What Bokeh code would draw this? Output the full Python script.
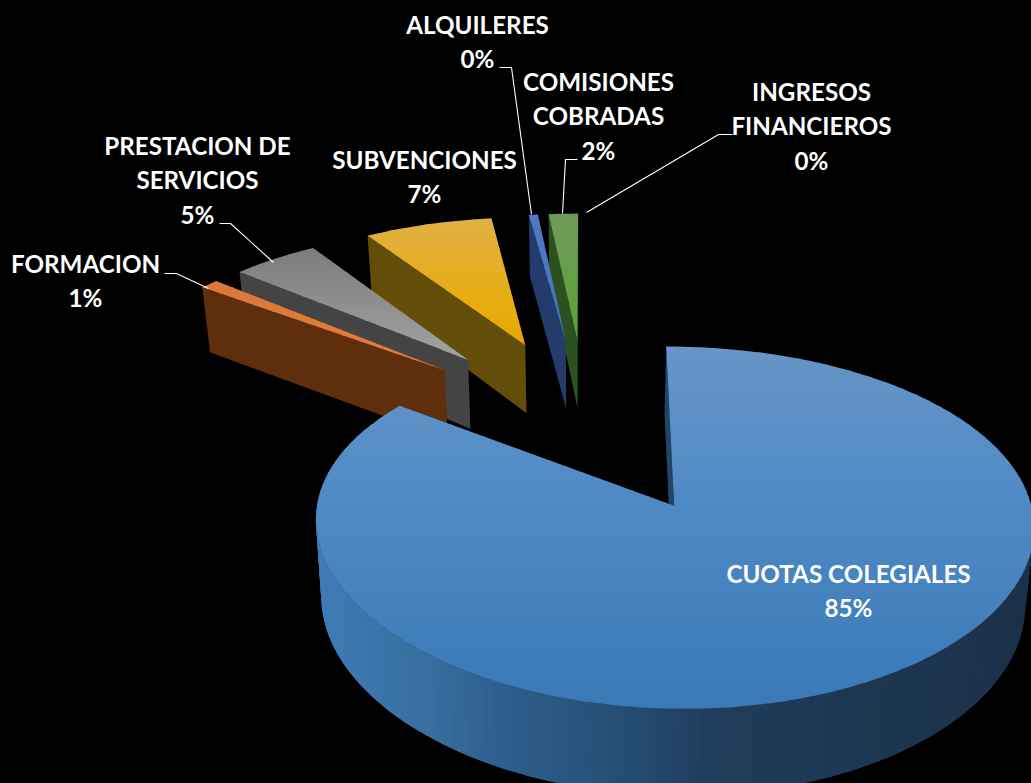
import numpy as np
from bokeh.core.properties import value
from bokeh.embed import file_html
from bokeh.models import ColumnDataSource, GlobalInlineStyleSheet, Range1d
from bokeh.plotting import figure
from bokeh.resources import INLINE

# ---- data ----
categories = ["CUOTAS COLEGIALES", "FORMACION", "PRESTACION DE SERVICIOS", "SUBVENCIONES",
              "ALQUILERES", "COMISIONES COBRADAS", "INGRESOS FINANCIEROS"]
shares = [85.25, 1.0, 4.72, 6.95, 0.49, 1.59, 0.0]
label_lines = [["CUOTAS COLEGIALES"], ["FORMACION"], ["PRESTACION DE", "SERVICIOS"], ["SUBVENCIONES"],
               ["ALQUILERES"], ["COMISIONES", "COBRADAS"], ["INGRESOS", "FINANCIEROS"]]

# ---- styles / layout ----
W, H = 1031, 783
TOP = [[(347, "#6695c6"), (500, "#4f8ac6"), (710, "#3a79b6")],
       [(285, "#d9783c"), (372, "#ee7c2f")],
       [(250, "#7d7d7d"), (362, "#a3a3a3")],
       [(218, "#dfb044"), (300, "#e8ad12"), (348, "#e4a800")],
       [(214, "#5078bf"), (340, "#4472c4")],
       [(212, "#719a5a"), (340, "#5aa335")],
       [(212, "#70ad47"), (340, "#70ad47")]]
WALL = [[(316, "#3f7cb6"), (420, "#37709f"), (500, "#2d5f8e"), (640, "#244b70"), (710, "#1f3d5b"), (1031, "#1b3148")],
        [(200, "#5e2f10"), (450, "#612d08")],
        [(200, "#464646"), (470, "#434343")],
        [(360, "#64500c"), (530, "#614d06")],
        [(520, "#27406f"), (570, "#1f3868")],
        [(540, "#2d4d20"), (580, "#2c5220")],
        [(540, "#2c5220"), (580, "#2c5220")]]
LABEL_X = [848, 85, 197, 424, 477, 598, 811]
LABEL_Y = [572.5, 262.5, 144.5, 158.5, 23.5, 80.5, 90.5]
LINE_PITCH = 34.5
LEADERS = [None, [(164, 273), (176, 273), (208, 288)], [(219, 223), (230, 223), (273, 262)], None,
           [(499, 67), (511, 67), (531, 214)], [(577, 159), (565, 159), (562, 213)],
           [(732, 134), (718, 134), (586, 212)]]

# projection of the tilted pie
Cx, Cy, A, B, KX, KY, EXPLODE, DEPTH, SHRINK = 585.8, 422.4, 340.5, 159.0, 0.095, 0.1142, 0.55, 72.0, 0.98


def proj(u, v):
    return Cx + A * u / (1.0 - KX * v), Cy + B * v / (1.0 - KY * v)


def drop(x, y, v):
    return Cx + (x - Cx) * SHRINK, y + DEPTH / (1.0 - KY * v)


def hex2rgb(c):
    return np.array([int(c[i:i + 2], 16) for i in (1, 3, 5)], float)


def ramp(stops, t):
    xs = [s[0] for s in stops]
    cols = np.array([hex2rgb(s[1]) for s in stops])
    rgb = [np.interp(t, xs, cols[:, i]) for i in range(3)]
    return "#%02x%02x%02x" % tuple(int(round(c)) for c in rgb)


def clip(pts, lim, keep_below):
    out = []
    n = len(pts)
    inside = (lambda p: p[1] <= lim) if keep_below else (lambda p: p[1] >= lim)
    for i in range(n):
        a, b = pts[i], pts[(i + 1) % n]
        ia, ib = inside(a), inside(b)
        if ia:
            out.append(a)
        if ia != ib:
            f = (lim - a[1]) / (b[1] - a[1])
            out.append((a[0] + f * (b[0] - a[0]), lim))
    return out


p = figure(width=W, height=H, x_range=Range1d(0, W), y_range=Range1d(H, 0),
           output_backend="svg", toolbar_location=None, min_border=0,
           background_fill_color="#000000", border_fill_color="#000000",
           outline_line_color=None,
           stylesheets=[GlobalInlineStyleSheet(css="html,body{margin:0;padding:0;background:#000;overflow:hidden}")])
p.axis.visible = False
p.grid.visible = False

total = sum(shares)
edges = np.concatenate([[0.0], np.cumsum(shares) / total * 2 * np.pi])
xs, ys, fills = [], [], []


def add(pts, col):
    xs.append([q[0] for q in pts])
    ys.append([q[1] for q in pts])
    fills.append(col)


for i in reversed(range(len(shares))):
    if shares[i] == 0:
        continue
    t0, t1 = edges[i], edges[i + 1]
    mid = (t0 + t1) / 2
    u0, v0 = EXPLODE * np.sin(mid), -EXPLODE * np.cos(mid)
    n = max(2, int((t1 - t0) / np.radians(1.5)) + 1)
    ts = np.linspace(t0, t1, n)
    uv = [(u0, v0)] + [(u0 + np.sin(t), v0 - np.cos(t)) for t in ts]
    top = [proj(*q) for q in uv]
    # walls that face the viewer, in outline order; each overlaps the next so no seams show
    count = len(uv)
    for j in range(count):
        a, b = j, (j + 1) % count
        if top[b][0] < top[a][0]:
            c = b
            if 1 <= b < count - 1 and top[b + 1][0] < top[b][0]:
                c = b + 1
            pa, pc = top[a], top[c]
            qa, qc = drop(*pa, uv[a][1]), drop(*pc, uv[c][1])
            mids = [pa, top[b], pc] if c != b else [pa, pc]
            bots = [qc, drop(*top[b], uv[b][1]), qa] if c != b else [qc, qa]
            add(mids + bots, ramp(WALL[i], (pa[0] + top[b][0]) / 2))
    # top face in horizontal bands, for the shading
    ymin, ymax = min(q[1] for q in top), max(q[1] for q in top)
    step = 6.0
    y0 = ymin
    while y0 < ymax:
        y1 = min(y0 + step + 1.0, ymax)
        band = clip(clip(top, y0, False), y1, True)
        if len(band) >= 3:
            add(band, ramp(TOP[i], y0 + step / 2))
        y0 += step

src = ColumnDataSource(dict(xs=xs, ys=ys, c=fills))
p.patches("xs", "ys", source=src, fill_color="c", line_color=None)

for leader in LEADERS:
    if leader:
        p.line([q[0] for q in leader], [q[1] for q in leader], line_color="#ffffff", line_width=1.1)

tx, ty, tt = [], [], []
for i, lines in enumerate(label_lines):
    for j, s in enumerate(lines + [f"{round(shares[i])}%"]):
        tx.append(LABEL_X[i])
        ty.append(LABEL_Y[i] + j * LINE_PITCH)
        tt.append(s)
p.text(tx, ty, text=tt, text_font=value("Lato"), text_font_style="bold", text_font_size="24.2px",
       text_color="#ffffff", text_align="center", text_baseline="middle")

open("out.html", "w").write(file_html(p, INLINE))
